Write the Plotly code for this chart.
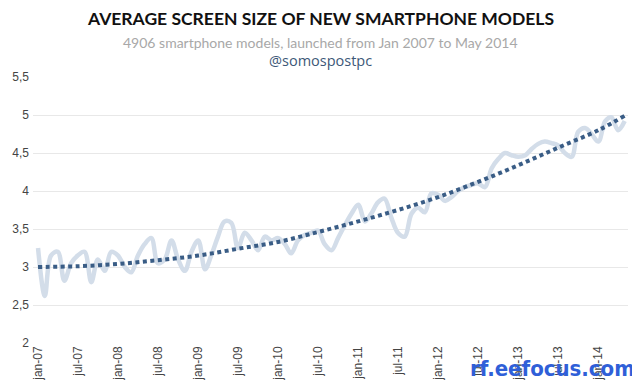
import plotly.graph_objects as go
import pandas as pd

# ---- data ----
months = pd.date_range("2007-01-01", "2014-05-01", freq="MS")
avg_screen = [
    3.25, 2.62, 3.15, 3.20, 2.82, 3.05, 3.15, 3.20, 2.80, 3.10,
    2.95, 3.20, 3.15, 3.00, 2.93, 3.15, 3.30, 3.38, 3.05, 3.10,
    3.35, 3.10, 2.95, 3.20, 3.35, 2.97, 3.15, 3.40, 3.60, 3.58,
    3.25, 3.45, 3.35, 3.22, 3.40, 3.35, 3.38, 3.30, 3.18, 3.35,
    3.42, 3.45, 3.48, 3.30, 3.22, 3.38, 3.55, 3.70, 3.82, 3.60,
    3.70, 3.85, 3.90, 3.65, 3.45, 3.40, 3.70, 3.78, 3.72, 3.97,
    3.95, 3.87, 3.92, 4.00, 4.05, 4.08, 4.10, 4.05, 4.30, 4.42,
    4.50, 4.47, 4.45, 4.47, 4.55, 4.62, 4.65, 4.63, 4.60, 4.50,
    4.45, 4.78, 4.83, 4.75, 4.65, 4.92, 4.97, 4.80, 4.92,
]
trend_dates = ["2007-01-01", "2007-07-01", "2008-01-01", "2008-07-01",
               "2009-01-01", "2009-07-01", "2010-01-01", "2010-07-01",
               "2011-01-01", "2011-07-01", "2012-01-01", "2012-07-01",
               "2013-01-01", "2013-07-01", "2014-01-01", "2014-05-01"]
trend_vals = [3.00, 3.01, 3.04, 3.09, 3.15, 3.24, 3.33, 3.46,
              3.60, 3.75, 3.92, 4.12, 4.34, 4.57, 4.80, 4.99]

x_tick_vals = ["2007-01-01", "2007-07-01", "2008-01-01", "2008-07-01",
               "2009-01-01", "2009-07-01", "2010-01-01", "2010-07-01",
               "2011-01-01", "2011-07-01", "2012-01-01", "2012-07-01",
               "2013-01-01", "2013-07-01", "2014-01-01"]
x_tick_text = ["jan-07", "jul-07", "jan-08", "jul-08", "jan-09", "jul-09",
               "jan-10", "jul-10", "jan-11", "jul-11", "jan-12", "jul-12",
               "jan-13", "jul-13", "jan-14"]
y_tick_vals = [2, 2.5, 3, 3.5, 4, 4.5, 5, 5.5]
y_tick_text = ["2", "2,5", "3", "3,5", "4", "4,5", "5", "5,5"]

title = "AVERAGE SCREEN SIZE OF NEW SMARTPHONE MODELS"
subtitle = "4906 smartphone models, launched from Jan 2007 to May 2014"
handle = "@somospostpc"
watermark = "rf.eefocus.com"

# figure sits 8px inside the page (body margin), so size / offsets compensate
W, H = 632, 383
L, R, T, B = 25, 12, 69, 48
OFF = 8

fig = go.Figure()
fig.add_trace(go.Scatter(
    x=months, y=avg_screen, mode="lines",
    line=dict(color="#d3dde9", width=4.5, shape="spline", smoothing=1.0),
    hoverinfo="skip", showlegend=False))
fig.add_trace(go.Scatter(
    x=pd.to_datetime(trend_dates), y=trend_vals, mode="lines",
    line=dict(color="#3a5d86", width=4, dash="4px,3.5px", shape="spline"),
    hoverinfo="skip", showlegend=False))

plot_w = W - L - R
plot_h = H - T - B
def px(xpage):
    return (xpage - OFF - L) / plot_w
def py(ypage):
    return (H - B - (ypage - OFF)) / plot_h

fig.update_layout(
    template="none",
    width=W, height=H,
    margin=dict(l=L, r=R, t=T, b=B, pad=0),
    paper_bgcolor="white", plot_bgcolor="white",
    font=dict(family="Liberation Sans, Arial, sans-serif", color="#444"),
    xaxis=dict(
        type="date", range=["2006-12-09", "2014-05-16"], automargin=False,
        tickvals=pd.to_datetime(x_tick_vals), ticktext=x_tick_text,
        tickangle=-90, tickfont=dict(size=12, color="#444"),
        showgrid=False, zeroline=False, showline=False, ticks="",
    ),
    yaxis=dict(
        range=[2, 5.5], tickvals=y_tick_vals, ticktext=y_tick_text, automargin=False,
        tickfont=dict(size=12, color="#444"),
        showgrid=True, gridcolor="#e8e8e8", gridwidth=1,
        zeroline=False, showline=False, ticks="", ticklabelstandoff=3,
    ),
    annotations=[
        dict(text="<b>" + title + "</b>", x=px(320), y=py(19),
             xref="paper", yref="paper", xanchor="center", yanchor="middle",
             showarrow=False, font=dict(size=17.5, color="#111", family="Lato, sans-serif")),
        dict(text=subtitle, x=px(320), y=py(42),
             xref="paper", yref="paper", xanchor="center", yanchor="middle",
             showarrow=False, font=dict(size=14, color="#a8a8a8", family="Lato, sans-serif")),
        dict(text=handle, x=px(320), y=py(60),
             xref="paper", yref="paper", xanchor="center", yanchor="middle",
             showarrow=False, font=dict(size=14.5, color="#3d5878", family="Open Sans, sans-serif")),
        dict(text="<b>" + watermark + "</b>", x=px(637), y=py(368),
             xref="paper", yref="paper", xanchor="right", yanchor="middle",
             showarrow=False,
             font=dict(size=22, color="#2f5fd8", family="DejaVu Sans Condensed, DejaVu Sans, sans-serif")),
    ],
)

fig.write_html("out.html")
